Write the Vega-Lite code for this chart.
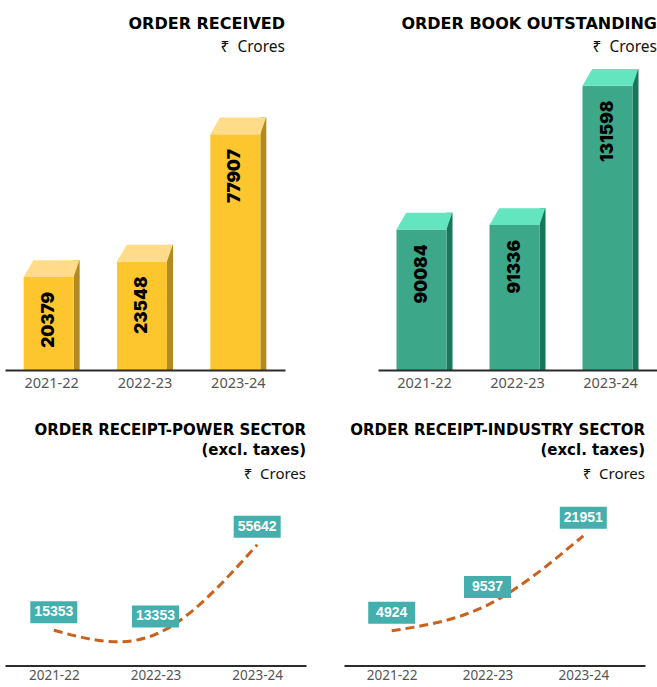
{
  "$schema": "https://vega.github.io/schema/vega-lite/v6.json",
  "background": "white",
  "padding": {"left": 5, "top": 16, "right": 0, "bottom": 0},
  "config": {"view": {"stroke": null}},
  "datasets": {
    "orders": [
      {"year": "2021-22", "received": 20379, "book": 90084, "power": 15353, "industry": 4924},
      {"year": "2022-23", "received": 23548, "book": 91336, "power": 13353, "industry": 9537},
      {"year": "2023-24", "received": 77907, "book": 131598, "power": 55642, "industry": 21951}
    ]
  },
  "spacing": 32.5,
  "vconcat": [
    {
      "spacing": 93,
      "hconcat": [
        {
          "width": 280, "height": 309,
          "data": {"name": "orders"},
          "title": {"text": "ORDER RECEIVED", "subtitle": "₹\u00a0\u00a0Crores", "anchor": "end", "frame": "group", "font": "DejaVu Sans", "fontSize": 16, "fontWeight": "bold", "color": "#000000", "subtitleFont": "Noto Sans", "subtitleFontSize": 15.5, "subtitleColor": "#111111", "subtitlePadding": 7.7, "offset": 5.5},
          "encoding": {
            "x": {"field": "year", "type": "ordinal", "scale": {"paddingInner": 0, "paddingOuter": 0}, "axis": {"title": null, "labelAngle": 0, "ticks": false, "domainColor": "#2b2b2b", "domainWidth": 2, "labelFont": "Noto Sans", "labelFontSize": 14.5, "labelColor": "#555555", "labelPadding": 6, "zindex": 1}},
            "y": {"field": "received", "type": "quantitative", "scale": {"type": "log", "domain": [8500, 155070], "nice": false}, "axis": null}
          },
          "layer": [
            {"mark": {"type": "bar", "width": 6, "xOffset": 25, "yOffset": -16.7, "color": "#B38A1F"}, "encoding": {"y2": {"datum": 8500}}},
            {"mark": {"type": "bar", "width": 50, "xOffset": -3, "color": "#FDC62F"}, "encoding": {"y2": {"datum": 8500}}},
            {"mark": {"type": "point", "shape": "M-25,0L-15.3,-16.7L30.7,-16.7L25,0Z", "size": 4, "filled": true, "opacity": 1, "strokeWidth": 0, "xOffset": -3, "color": "#FFDB8A"}},
            {"mark": {"type": "text", "angle": 270, "align": "right", "baseline": "middle", "xOffset": -3, "yOffset": 15, "font": "Inter", "fontSize": 17, "fontWeight": 900, "color": "#000000"}, "encoding": {"text": {"field": "received", "type": "quantitative", "format": "d"}}}
          ]
        },
        {
          "width": 279, "height": 309,
          "data": {"name": "orders"},
          "title": {"text": "ORDER BOOK OUTSTANDING", "subtitle": "₹\u00a0\u00a0Crores", "anchor": "end", "frame": "group", "font": "DejaVu Sans", "fontSize": 16, "fontWeight": "bold", "color": "#000000", "subtitleFont": "Noto Sans", "subtitleFontSize": 15.5, "subtitleColor": "#111111", "subtitlePadding": 7.7, "offset": 5.5},
          "encoding": {
            "x": {"field": "year", "type": "ordinal", "scale": {"paddingInner": 0, "paddingOuter": 0}, "axis": {"title": null, "labelAngle": 0, "ticks": false, "domainColor": "#2b2b2b", "domainWidth": 2, "labelFont": "Noto Sans", "labelFontSize": 14.5, "labelColor": "#555555", "labelPadding": 6, "zindex": 1}},
            "y": {"field": "book", "type": "quantitative", "scale": {"domain": [49436, 138768], "zero": false, "nice": false}, "axis": null}
          },
          "layer": [
            {"mark": {"type": "bar", "width": 6, "xOffset": 25, "yOffset": -16.7, "color": "#18765A"}, "encoding": {"y2": {"datum": 49436}}},
            {"mark": {"type": "bar", "width": 50, "xOffset": -3, "color": "#3CA889"}, "encoding": {"y2": {"datum": 49436}}},
            {"mark": {"type": "point", "shape": "M-25,0L-15.3,-16.7L30.7,-16.7L25,0Z", "size": 4, "filled": true, "opacity": 1, "strokeWidth": 0, "xOffset": -3, "color": "#63E5BF"}},
            {"mark": {"type": "text", "angle": 270, "align": "right", "baseline": "middle", "xOffset": -3, "yOffset": 15, "font": "Inter", "fontSize": 17, "fontWeight": 900, "color": "#000000"}, "encoding": {"text": {"field": "book", "type": "quantitative", "format": "d"}}}
          ]
        }
      ]
    },
    {
      "spacing": 38,
      "hconcat": [
        {
          "width": 301, "height": 178,
          "data": {"name": "orders"},
          "title": {"text": ["ORDER RECEIPT-POWER SECTOR", "(excl. taxes)"], "subtitle": "₹\u00a0\u00a0Crores", "anchor": "end", "frame": "group", "font": "DejaVu Sans", "fontSize": 15, "lineHeight": 20, "fontWeight": "bold", "color": "#000000", "subtitleFont": "Noto Sans", "subtitleFontSize": 15, "subtitleColor": "#111111", "subtitlePadding": 8.5, "offset": 6},
          "encoding": {
            "x": {"field": "year", "type": "ordinal", "scale": {"type": "point", "padding": 0.48, "align": 0.5}, "axis": {"title": null, "labelAngle": 0, "ticks": false, "domainColor": "#2b2b2b", "domainWidth": 2, "labelFont": "Noto Sans", "labelFontSize": 13.5, "labelColor": "#555555", "labelPadding": 3, "zindex": 1}},
            "y": {"field": "power", "type": "quantitative", "scale": {"domain": [-1300, 82674], "zero": false, "nice": false}, "axis": null}
          },
          "layer": [
            {"mark": {"type": "line", "interpolate": "natural", "color": "#C8621E", "strokeWidth": 3, "strokeDash": [9, 5]}, "encoding": {}},
            {"mark": {"type": "point", "shape": "M-23.5,-11H23.5V11H-23.5Z", "size": 4, "filled": true, "opacity": 1, "strokeWidth": 0, "color": "#45AFAD", "yOffset": -18}},
            {"mark": {"type": "text", "font": "Liberation Sans", "fontWeight": "bold", "fontSize": 14, "color": "#ffffff", "baseline": "middle", "yOffset": -18}, "encoding": {"text": {"field": "power", "type": "quantitative", "format": "d"}}}
          ]
        },
        {
          "width": 301, "height": 178,
          "data": {"name": "orders"},
          "title": {"text": ["ORDER RECEIPT-INDUSTRY SECTOR", "(excl. taxes)"], "subtitle": "₹\u00a0\u00a0Crores", "anchor": "end", "frame": "group", "font": "DejaVu Sans", "fontSize": 15, "lineHeight": 20, "fontWeight": "bold", "color": "#000000", "subtitleFont": "Noto Sans", "subtitleFontSize": 15, "subtitleColor": "#111111", "subtitlePadding": 8.5, "offset": 6},
          "encoding": {
            "x": {"field": "year", "type": "ordinal", "scale": {"type": "point", "padding": 0.571, "align": 0.436}, "axis": {"title": null, "labelAngle": 0, "ticks": false, "domainColor": "#2b2b2b", "domainWidth": 2, "labelFont": "Noto Sans", "labelFontSize": 13.5, "labelColor": "#555555", "labelPadding": 3, "zindex": 1}},
            "y": {"field": "industry", "type": "quantitative", "scale": {"domain": [-1295, 30608], "zero": false, "nice": false}, "axis": null}
          },
          "layer": [
            {"mark": {"type": "line", "interpolate": "natural", "color": "#C8621E", "strokeWidth": 3, "strokeDash": [9, 5]}, "encoding": {}},
            {"mark": {"type": "point", "shape": "M-23.5,-11H23.5V11H-23.5Z", "size": 4, "filled": true, "opacity": 1, "strokeWidth": 0, "color": "#45AFAD", "yOffset": -18}},
            {"mark": {"type": "text", "font": "Liberation Sans", "fontWeight": "bold", "fontSize": 14, "color": "#ffffff", "baseline": "middle", "yOffset": -18}, "encoding": {"text": {"field": "industry", "type": "quantitative", "format": "d"}}}
          ]
        }
      ]
    }
  ]
}
